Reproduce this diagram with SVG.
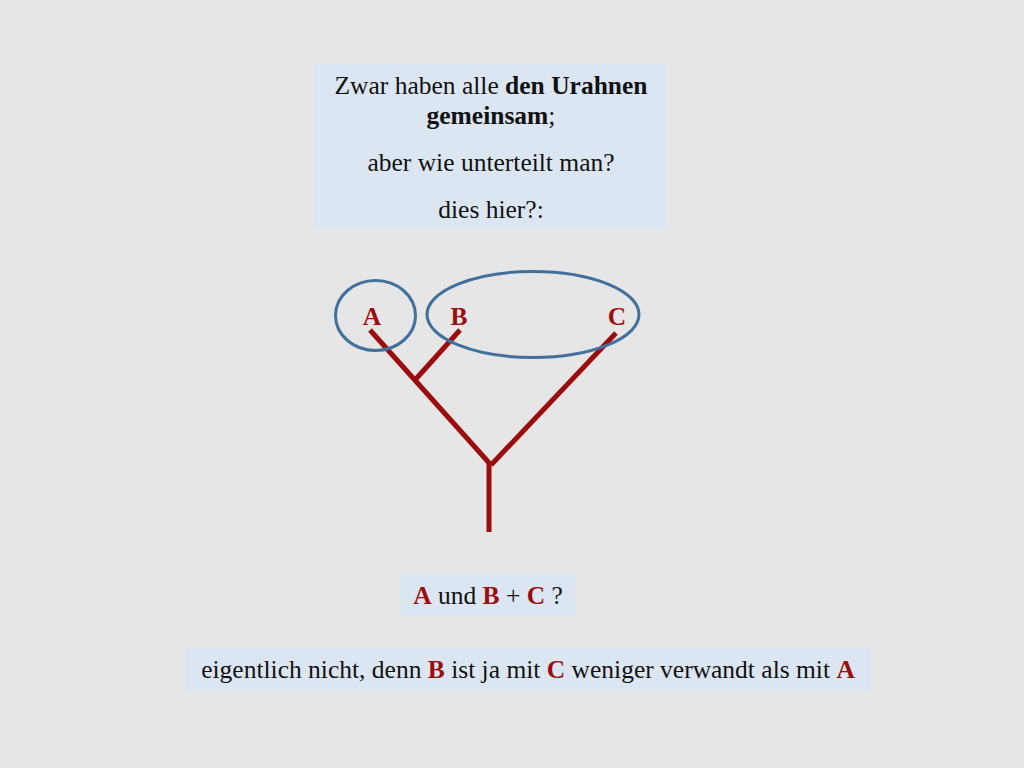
<svg xmlns="http://www.w3.org/2000/svg" width="1024" height="768" viewBox="0 0 1024 768">
<style>
text{font-family:"Liberation Serif","Times New Roman",serif}
.t{fill:#111111;text-anchor:middle;font-size:25.5px}
.b{font-weight:bold}
.r{fill:#9b0d0d;font-weight:bold}
.box{fill:#dce6f2}
.br{stroke:#9b0d0d;stroke-width:5;fill:none;stroke-linecap:butt}
.ov{fill:none;stroke:#41709c;stroke-width:3}
</style>
<rect width="1024" height="768" fill="#e6e6e6"/>
<g id="intro">
<rect class="box" x="314" y="64" width="353" height="165"/>
<text class="t" x="491" y="94" font-family="Liberation Serif, serif">Zwar haben alle <tspan class="b">den Urahnen</tspan></text>
<text class="t" x="491" y="124" font-family="Liberation Serif, serif"><tspan class="b">gemeinsam</tspan>;</text>
<text class="t" x="491" y="171" font-family="Liberation Serif, serif">aber wie unterteilt man?</text>
<text class="t" x="491" y="218" font-family="Liberation Serif, serif">dies hier?:</text>
</g>
<g id="connectors">
<line class="br" x1="370" y1="330" x2="491" y2="465"/>
<line class="br" x1="460" y1="330" x2="415" y2="380"/>
<line class="br" x1="616" y1="333" x2="491" y2="465"/>
<line class="br" x1="489" y1="463" x2="489" y2="532"/>
</g>
<g id="nodeA">
<ellipse class="ov" cx="375.5" cy="315.5" rx="40" ry="35"/>
<text class="t r" x="372" y="325" font-family="Liberation Serif, serif" font-size="24">A</text>
</g>
<g id="nodeB">
<text class="t r" x="459" y="325" font-family="Liberation Serif, serif" font-size="24">B</text>
</g>
<g id="nodeC">
<text class="t r" x="617" y="325" font-family="Liberation Serif, serif" font-size="24">C</text>
</g>
<g id="groupBC">
<ellipse class="ov" cx="533" cy="314.5" rx="106" ry="43"/>
</g>
<g id="question">
<rect class="box" x="400" y="574" width="176" height="42"/>
<text class="t" x="488" y="604" font-family="Liberation Serif, serif"><tspan class="r">A</tspan> und <tspan class="r">B</tspan> + <tspan class="r">C</tspan> ?</text>
</g>
<g id="answer">
<rect class="box" x="185" y="648" width="686" height="42"/>
<text class="t" x="528" y="678" font-family="Liberation Serif, serif">eigentlich nicht, denn <tspan class="r">B</tspan> ist ja mit <tspan class="r">C</tspan> weniger verwandt als mit <tspan class="r">A</tspan></text>
</g>
</svg>
